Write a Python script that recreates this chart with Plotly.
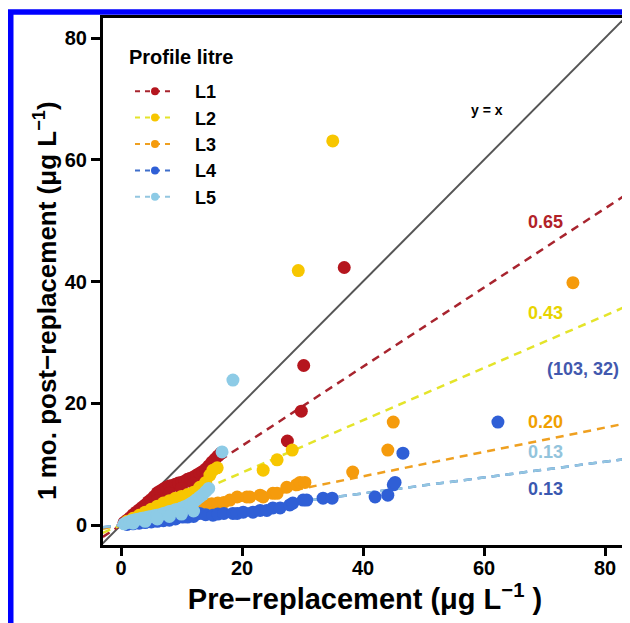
import plotly.graph_objects as go

# ---------------- data ----------------
series_names = ["L1", "L2", "L3", "L4", "L5"]
slopes = [0.65, 0.43, 0.20, 0.13, 0.13]
slope_labels = ["0.65", "0.43", "0.20", "0.13", "0.13"]

l1_x = [0.5, 1.0, 1.5, 2.0, 2.5, 3.0, 3.5, 4.0, 4.5, 5.0, 5.5, 6.0, 6.5, 7.0, 7.5, 8.0, 8.5, 9.0,
        9.5, 10.0, 10.5, 11.0, 11.5, 12.0, 12.5, 13.0, 13.5, 14.0, 14.5, 15.0, 15.5, 16.0, 16.5,
        4.0, 6.0, 8.0, 10.0, 12.0, 14.0, 27.5, 29.8, 30.2, 36.9]
l1_y = [0.4, 0.8, 1.2, 1.7, 2.1, 2.5, 2.9, 3.3, 3.8, 4.2, 4.7, 5.3, 5.6, 5.9, 6.2, 6.4, 6.5, 6.7,
        6.9, 7.0, 7.2, 7.5, 7.7, 7.9, 8.2, 8.5, 8.8, 9.2, 9.7, 10.3, 10.8, 11.3, 11.8,
        2.6, 4.0, 5.2, 6.0, 6.8, 7.8, 13.8, 18.7, 26.2, 42.3]

l2_x = [1.0, 2.0, 3.0, 4.0, 5.0, 6.0, 7.0, 8.0, 9.0, 10.0, 11.0, 12.0, 13.0, 14.0, 14.7, 15.2, 15.9,
        23.5, 25.8, 28.3, 29.3, 35.0]
l2_y = [0.6, 1.1, 1.6, 2.1, 2.6, 3.1, 3.6, 4.0, 4.4, 4.7, 5.0, 5.4, 6.2, 7.0, 8.2, 9.0, 9.4,
        9.0, 10.7, 12.3, 41.8, 63.1]

l3_x = [1.0, 2.0, 3.0, 4.0, 5.0, 6.0, 7.0, 8.0, 9.0, 10.0, 11.0, 12.0, 13.0, 14.0, 15.0, 16.0, 17.0,
        18.0, 19.2, 20.8, 21.3, 23.0, 23.5, 25.1, 25.8, 27.4, 29.0, 29.6, 30.4,
        38.3, 44.1, 45.0, 74.7]
l3_y = [0.3, 0.6, 0.8, 1.0, 1.2, 1.5, 1.7, 2.0, 2.3, 2.6, 2.9, 3.1, 3.3, 3.4, 3.5, 3.6, 3.7,
        4.1, 4.6, 4.6, 4.6, 4.9, 4.6, 5.2, 5.2, 6.2, 6.6, 7.0, 7.0,
        8.7, 12.3, 16.9, 39.8]

l4_x = [1.0, 2.0, 3.0, 4.0, 5.0, 6.0, 7.0, 8.0, 9.0, 10.2, 11.0, 12.0, 13.0, 14.0, 15.2, 16.0, 17.0,
        18.5, 19.2, 20.2, 21.8, 23.0, 24.1, 25.1, 26.3, 27.9, 28.4, 30.1, 30.7, 33.4, 34.9,
        42.0, 44.1, 45.0, 45.3, 46.6, 62.3]
l4_y = [0.1, 0.2, 0.3, 0.4, 0.5, 0.6, 0.7, 0.8, 1.0, 1.3, 1.3, 1.4, 1.9, 1.7, 1.6, 1.8, 1.9,
        1.9, 1.9, 2.1, 2.1, 2.4, 2.4, 2.8, 2.8, 3.3, 3.6, 4.1, 4.1, 4.4, 4.4,
        4.6, 4.9, 6.6, 7.0, 11.8, 16.9]

l5_x = [0.5, 1.0, 1.5, 2.0, 2.5, 3.0, 3.5, 4.0, 4.5, 5.0, 5.5, 6.0, 6.5, 7.0, 7.5, 8.0, 8.5, 9.0,
        9.5, 10.0, 10.5, 11.0, 11.5, 12.0, 12.5, 13.0, 13.5, 14.0, 14.5,
        2.0, 4.0, 6.0, 8.0, 10.0, 12.0, 16.7, 18.5]
l5_y = [0.2, 0.4, 0.6, 0.8, 0.9, 1.0, 1.1, 1.2, 1.3, 1.4, 1.5, 1.6, 1.7, 1.9, 2.0, 2.2, 2.3, 2.5,
        2.6, 2.8, 3.0, 3.2, 3.5, 3.8, 4.2, 4.6, 5.0, 5.5, 6.0,
        0.3, 0.6, 1.0, 1.4, 1.8, 2.3, 12.0, 23.8]

x_ticks = [0, 20, 40, 60, 80]
y_ticks = [0, 20, 40, 60, 80]
fit_x = [-3, 84]

# label positions (data coords) for the slope texts
label_pos = [(70.2, 49.7), (70.2, 34.8), (70.2, 16.9), (70.2, 12.0), (70.2, 5.9)]
note_text = "(103, 32)"
note_pos = (76.4, 25.7)
eq_text = "y = x"
eq_pos = (60.5, 68.2)

x_title = "<b>Pre\u2212replacement (\u03bcg L<sup>\u22121</sup> )</b>"
y_title = "<b>1 mo. post\u2212replacement (\u03bcg L<sup>\u22121</sup>)</b>"

# ---------------- style ----------------
marker_colors = ["#B5161E", "#F7C600", "#F59B0C", "#2F5FD6", "#8DCBE6"]
line_colors = ["#A8242E", "#E4E42A", "#EFA020", "#3F6FCB", "#93C6E0"]
text_colors = ["#B22228", "#E8D400", "#F0A000", "#93C4DC", "#3A58B0"]
note_color = "#4258AE"

FONT = "Liberation Sans, Arial, sans-serif"

W, H = 630, 623
ML, MR, MT, MB = 95, 11, 10, 86
pw, ph = W - ML - MR, H - MT - MB

# data scale (pixels per unit) and origin pixel, in figure coordinates
X0, XS = 113, 6.05
Y0, YS = 517, 6.0875

fig = go.Figure()

xs = [l1_x, l2_x, l3_x, l4_x, l5_x]
ys = [l1_y, l2_y, l3_y, l4_y, l5_y]

# y = x reference line
fig.add_trace(go.Scatter(x=[-10, 100], y=[-10, 100], mode="lines",
                         line=dict(color="#555555", width=2), showlegend=False,
                         hoverinfo="skip"))

# regression lines
for i in range(5):
    fig.add_trace(go.Scatter(x=fit_x, y=[slopes[i] * v for v in fit_x], mode="lines",
                             line=dict(color=line_colors[i], width=2.5, dash="8px,6px"),
                             showlegend=False, hoverinfo="skip"))

# points, draw order
for i in [2, 3, 0, 1, 4]:
    fig.add_trace(go.Scatter(x=xs[i], y=ys[i], mode="markers",
                             marker=dict(color=marker_colors[i], size=13, line=dict(width=0)),
                             showlegend=False, name=series_names[i]))

# legend entries
for i in range(5):
    fig.add_trace(go.Scatter(x=[None], y=[None], mode="lines+markers",
                             name="<b>\u00a0\u00a0\u00a0%s</b>" % series_names[i],
                             legendgroup=series_names[i],
                             line=dict(color=line_colors[i], width=2, dash="5px,5px"),
                             marker=dict(color=marker_colors[i], size=8)))

# slope annotations
for i in range(5):
    fig.add_annotation(x=label_pos[i][0], y=label_pos[i][1], text="<b>%s</b>" % slope_labels[i],
                       showarrow=False, font=dict(family=FONT, size=18, color=text_colors[i]),
                       xanchor="center", yanchor="middle")
fig.add_annotation(x=note_pos[0], y=note_pos[1], text="<b>%s</b>" % note_text, showarrow=False,
                   font=dict(family=FONT, size=18, color=note_color), xanchor="center", yanchor="middle")
fig.add_annotation(x=eq_pos[0], y=eq_pos[1], text="<b>%s</b>" % eq_text, showarrow=False,
                   font=dict(family=FONT, size=14, color="black"), xanchor="center", yanchor="middle")


def px_x(p):
    return (p - ML) / pw


def px_y(p):
    return (H - MB - p) / ph


# legend title
fig.add_annotation(xref="paper", yref="paper", x=px_x(119), y=px_y(49), text="<b>Profile litre</b>",
                   showarrow=False, xanchor="left", yanchor="middle",
                   font=dict(family=FONT, size=20, color="black"))

# y axis title (as rotated annotation for exact placement)
fig.add_annotation(xref="paper", yref="paper", x=px_x(37), y=px_y(293), text=y_title,
                   showarrow=False, xanchor="center", yanchor="middle", textangle=-90,
                   font=dict(family=FONT, size=26, color="black"))

# blue outer frame
fig.add_shape(type="rect", xref="paper", yref="paper",
              x0=px_x(2.75), x1=px_x(627), y0=px_y(620), y1=px_y(4),
              line=dict(color="#0000FF", width=5.5), fillcolor="rgba(0,0,0,0)", layer="above")

fig.update_layout(
    width=W, height=H,
    margin=dict(l=ML, r=MR, t=MT, b=MB),
    paper_bgcolor="white", plot_bgcolor="white",
    font=dict(family=FONT, color="black"),
    showlegend=True,
    legend=dict(x=px_x(122), y=px_y(65), xanchor="left", yanchor="top",
                bgcolor="rgba(0,0,0,0)", borderwidth=0,
                font=dict(family=FONT, size=18), tracegroupgap=0, itemwidth=40),
    xaxis=dict(range=[(ML - X0) / XS, (W - MR - X0) / XS], tickvals=x_ticks,
               ticktext=["<b>%d</b>" % v for v in x_ticks], automargin=False,
               showline=True, linecolor="black", linewidth=3, mirror=True,
               ticks="outside", ticklen=8, tickwidth=3, tickcolor="black",
               ticklabelstandoff=-5,
               tickfont=dict(family=FONT, size=20), showgrid=False, zeroline=False,
               title=dict(text=x_title, font=dict(family=FONT, size=29), standoff=0)),
    yaxis=dict(range=[(Y0 - (H - MB)) / YS, (Y0 - MT) / YS], tickvals=y_ticks,
               ticktext=["<b>%d</b>" % v for v in y_ticks], automargin=False,
               showline=True, linecolor="black", linewidth=3, mirror=True,
               ticks="outside", ticklen=9, tickwidth=3, tickcolor="black",
               tickfont=dict(family=FONT, size=20), showgrid=False, zeroline=False),
)

fig.write_html("out.html")
